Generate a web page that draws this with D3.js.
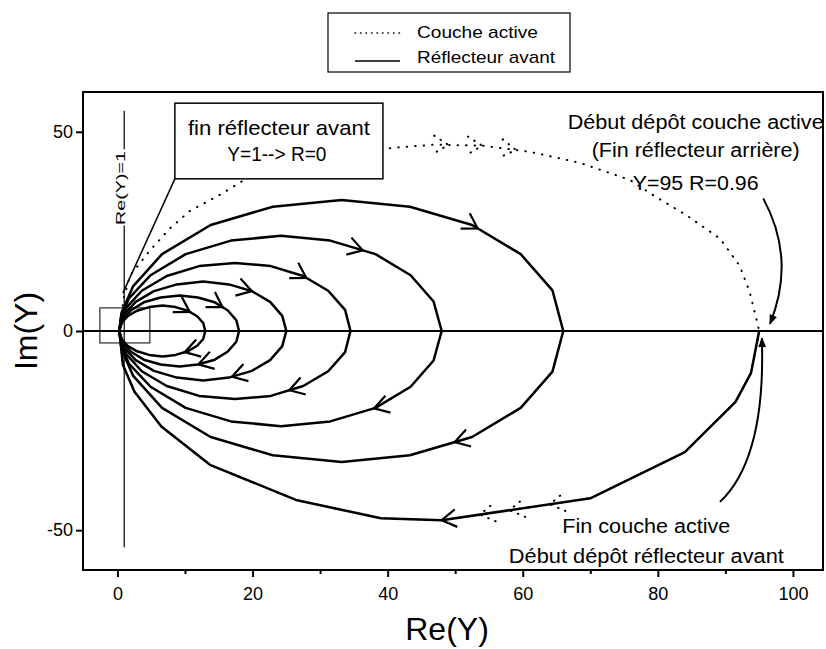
<!DOCTYPE html>
<html>
<head>
<meta charset="utf-8">
<script src="https://cdn.jsdelivr.net/npm/d3@7"></script>
<style>
  body { margin: 0; background: #fff; }
  text { font-family: "Liberation Sans", Arial, sans-serif; fill: #000; }
</style>
</head>
<body>
<div id="chart"></div>
<script>
// admittance diagram Im(Y) vs Re(Y)

const width = 826;
const height = 649;

const xTicks = [0, 20, 40, 60, 80, 100];
const xMinor = [10, 30, 50, 70, 90];
const yTicks = [-50, 0, 50];

// Reflecteur avant, upper arcs (going right, from origin to the crossing)
const up66 = [[0.3,0],[0.6,4.6],[2.3,11.2],[6.6,19.3],[13.8,26.6],[23.0,31.2],[33.2,32.9],[43.3,31.2],[52.5,26.6],[59.7,19.3],[64.4,10.2],[66,0]];
const up48 = [[0.3,0],[0.5,3.3],[1.7,8.2],[4.9,14.0],[10.1,19.3],[16.8,22.7],[24.2,23.9],[31.5,22.7],[38.2,19.3],[43.4,14.0],[46.8,7.4],[48,0]];
const up34 = [[0.3,0],[0.5,2.4],[1.3,5.8],[3.6,10.1],[7.3,13.8],[12.1,16.3],[17.4,17.1],[22.7,16.3],[27.5,13.8],[31.2,10.1],[33.7,5.3],[34.5,0]];
const up25 = [[0.3,0],[0.4,1.7],[1.0,4.2],[2.7,7.3],[5.4,10.0],[8.8,11.7],[12.7,12.4],[16.5,11.7],[19.9,10.0],[22.6,7.3],[24.4,3.8],[25,0]];
const up18 = [[0.3,0],[0.4,1.2],[0.8,3.0],[2.0,5.2],[3.9,7.2],[6.4,8.4],[9.2,8.9],[11.9,8.4],[14.4,7.2],[16.3,5.2],[17.6,2.7],[18,0]];
const up13 = [[0.3,0],[0.4,0.9],[0.7,2.2],[1.5,3.7],[2.9,5.1],[4.7,6.0],[6.7,6.4],[8.6,6.0],[10.4,5.1],[11.8,3.7],[12.7,2.0],[13,0]];

// Reflecteur avant, lower arcs (going left, from the crossing back to origin)
const lo95 = [[95,0],[93.8,-10.5],[91.5,-17.8],[84,-30.4],[70,-42],[48,-47.5],[39,-47],[26.6,-42.5],[13.7,-33.6],[6.5,-24],[2.5,-15.2],[0.8,-8.5],[0.3,0]];
const lo66 = [[66,0],[64.4,-10.2],[59.7,-19.3],[52.5,-26.6],[43.3,-31.2],[33.2,-32.9],[23.0,-31.2],[13.8,-26.6],[6.6,-19.3],[2.3,-11.2],[0.6,-4.6],[0.3,0]];
const lo48 = [[48,0],[46.8,-7.4],[43.4,-14.0],[38.2,-19.3],[31.5,-22.7],[24.2,-23.9],[16.8,-22.7],[10.1,-19.3],[4.9,-14.0],[1.7,-8.2],[0.5,-3.3],[0.3,0]];
const lo34 = [[34.5,0],[33.7,-5.3],[31.2,-10.1],[27.5,-13.8],[22.7,-16.3],[17.4,-17.1],[12.1,-16.3],[7.3,-13.8],[3.6,-10.1],[1.3,-5.8],[0.5,-2.4],[0.3,0]];
const lo25 = [[25,0],[24.4,-3.8],[22.6,-7.3],[19.9,-10.0],[16.5,-11.7],[12.7,-12.4],[8.8,-11.7],[5.4,-10.0],[2.7,-7.3],[1.0,-4.2],[0.4,-1.7],[0.3,0]];
const lo18 = [[18,0],[17.6,-2.7],[16.3,-5.2],[14.4,-7.2],[11.9,-8.4],[9.2,-8.9],[6.4,-8.4],[3.9,-7.2],[2.0,-5.2],[0.8,-3.0],[0.4,-1.2],[0.3,0]];
const lo13 = [[13,0],[12.7,-2.0],[11.8,-3.7],[10.4,-5.1],[8.6,-6.0],[6.7,-6.4],[4.7,-6.0],[2.9,-5.1],[1.5,-3.7],[0.7,-2.2],[0.4,-0.9],[0.3,0]];

// Couche active (full circle, top then bottom)
const coucheTop = [[0.3,0],[0.9,8],[1.85,13.9],[4.8,20.2],[7.8,25.8],[10.7,30.1],[15.6,34.6],[19.2,38.4],[30,43.5],[40.8,46],[47,46.8],[54.1,46.5],[61,45],[68.5,42.2],[75.9,37.9],[79.3,34.1],[84.3,29.0],[89.2,23.2],[92.1,16.4],[93.6,9.8],[94.7,2.3],[95,0]];
const coucheBottom = [[95,0],[93.8,-10.5],[91.5,-17.8],[84,-30.4],[70,-42],[48,-47.5],[39,-47],[26.6,-42.5],[13.7,-33.6],[6.5,-24],[2.5,-15.2],[0.8,-8.5],[0.3,0]];

// direction arrows along the curves
const upArrows = [[53.4,26.0],[36.3,20.2],[28,13.5],[20.1,10.6],[15.6,6.1],[10.7,4.8]];
const loArrows = [[48,-47.5],[50,-28.3],[38,-19.5],[25.5,-15.2],[17,-11.7],[12,-8.5],[10,-5.5]];
const coucheArrowsTop = [[49,46.8],[54,46.5],[59,45.5]];
const coucheArrowsBottom = [[53.7,-46.5],[58.1,-45.5],[64,-43.5]];

const reflecteurUp = [up66, up48, up34, up25, up18, up13];
const reflecteurLo = [lo95, lo66, lo48, lo34, lo25, lo18, lo13];

const svg = d3.select("#chart")
  .append("svg")
  .attr("width", width)
  .attr("height", height);

const x = d3.scaleLinear().domain([-5.1, 104.45]).range([83, 823]);
const y = d3.scaleLinear().domain([-60, 60]).range([570, 92]);

const line = d3.line().x(d => x(d[0])).y(d => y(d[1]));

// frame
svg.append("rect")
  .attr("x", x(-5.1)).attr("y", y(60))
  .attr("width", x(104.45) - x(-5.1)).attr("height", y(-60) - y(60))
  .attr("fill", "none").attr("stroke", "#000").attr("stroke-width", 2);

// axes
svg.append("g")
  .attr("transform", `translate(0,${y(-60)})`)
  .call(d3.axisBottom(x).tickValues(xTicks).tickSize(7).tickPadding(10).tickFormat(d => String(d)));
svg.append("g")
  .attr("transform", `translate(0,${y(-60)})`)
  .call(d3.axisBottom(x).tickValues(xMinor).tickSize(4).tickFormat(""));
svg.append("g")
  .attr("transform", `translate(${x(-5.1)},0)`)
  .call(d3.axisLeft(y).tickValues(yTicks).tickSize(7).tickPadding(3).tickFormat(d => String(d)));

svg.selectAll(".domain").remove();
svg.selectAll(".tick line").attr("stroke-width", 2);
svg.selectAll(".tick text")
  .attr("font-size", "18px")
  .attr("font-family", "'Liberation Sans', Arial, sans-serif");

// axis titles
svg.append("text")
  .attr("x", 447).attr("y", 640)
  .attr("text-anchor", "middle")
  .attr("font-size", "32px")
  .text("Re(Y)");
svg.append("text")
  .attr("transform", `translate(37,${y(0)}) rotate(-90)`)
  .attr("text-anchor", "middle")
  .attr("font-size", "32px")
  .text("Im(Y)");

// real axis line
svg.append("line")
  .attr("x1", x(-5.1)).attr("x2", x(104.45))
  .attr("y1", y(0)).attr("y2", y(0))
  .attr("stroke", "#000").attr("stroke-width", 2);

// Re(Y)=1 line with label
svg.append("line")
  .attr("x1", x(1)).attr("x2", x(1))
  .attr("y1", y(55.3)).attr("y2", y(45.6))
  .attr("stroke", "#000").attr("stroke-width", 1.2);
svg.append("line")
  .attr("x1", x(1)).attr("x2", x(1))
  .attr("y1", y(26.5)).attr("y2", y(-54.3))
  .attr("stroke", "#000").attr("stroke-width", 1.2);
svg.append("text")
  .attr("transform", `translate(${x(1) + 1},${y(35.9)}) rotate(-90)`)
  .attr("text-anchor", "middle")
  .attr("font-size", "13px")
  .attr("textLength", 74).attr("lengthAdjust", "spacingAndGlyphs")
  .text("Re(Y)=1");

// small box around the origin
svg.append("rect")
  .attr("x", x(-2.6)).attr("y", y(5.8))
  .attr("width", x(4.8) - x(-2.6)).attr("height", y(-3) - y(5.8))
  .attr("fill", "none").attr("stroke", "#000").attr("stroke-width", 1);

// couche active (dotted)
[coucheTop, coucheBottom].forEach(pts => {
  svg.append("path")
    .attr("d", line(pts))
    .attr("fill", "none").attr("stroke", "#000")
    .attr("stroke-width", 2).attr("stroke-linecap", "round")
    .attr("stroke-dasharray", "0.5,8");
});

// reflecteur avant (solid)
reflecteurUp.concat(reflecteurLo).forEach(pts => {
  svg.append("path")
    .attr("d", line(pts))
    .attr("fill", "none").attr("stroke", "#000")
    .attr("stroke-width", 2.5).attr("stroke-linejoin", "round");
});

// chevron arrows: snap to nearest segment, point along travel direction
function chevron(arcs, p, dashed) {
  const px = x(p[0]), py = y(p[1]);
  let best = null;
  arcs.forEach(pts => {
    for (let i = 0; i < pts.length - 1; i++) {
      const ax = x(pts[i][0]), ay = y(pts[i][1]);
      const bx = x(pts[i+1][0]), by = y(pts[i+1][1]);
      const dx = bx - ax, dy = by - ay;
      const len2 = dx*dx + dy*dy;
      let t = ((px-ax)*dx + (py-ay)*dy) / len2;
      t = Math.max(0, Math.min(1, t));
      const qx = ax + t*dx, qy = ay + t*dy;
      const dist = Math.hypot(px-qx, py-qy);
      if (!best || dist < best.dist) best = {dist, qx, qy, dx, dy};
    }
  });
  const L = Math.hypot(best.dx, best.dy);
  const ux = best.dx / L, uy = best.dy / L;
  const arm = 17, a = 0.55;
  const p1 = [best.qx - arm*(ux*Math.cos(a) - uy*Math.sin(a)), best.qy - arm*(ux*Math.sin(a) + uy*Math.cos(a))];
  const p2 = [best.qx - arm*(ux*Math.cos(-a) - uy*Math.sin(-a)), best.qy - arm*(ux*Math.sin(-a) + uy*Math.cos(-a))];
  const path = svg.append("path")
    .attr("d", `M${p1[0]},${p1[1]}L${best.qx},${best.qy}L${p2[0]},${p2[1]}`)
    .attr("fill", "none").attr("stroke", "#000");
  if (dashed) {
    path.attr("stroke-width", 2).attr("stroke-linecap", "round").attr("stroke-dasharray", "0.5,7");
  } else {
    path.attr("stroke-width", 2.2);
  }
}
upArrows.forEach(p => chevron(reflecteurUp, p, false));
loArrows.forEach(p => chevron(reflecteurLo, p, false));
coucheArrowsTop.forEach(p => chevron([coucheTop], p, true));
coucheArrowsBottom.forEach(p => chevron([coucheBottom], p, true));

// annotation box "fin reflecteur avant"
svg.append("line")
  .attr("x1", x(8.5)).attr("y1", y(38.2))
  .attr("x2", x(0.8)).attr("y2", y(9.5))
  .attr("stroke", "#000").attr("stroke-width", 1.5);
svg.append("rect")
  .attr("x", x(8.5)).attr("y", y(57.2))
  .attr("width", x(39.3) - x(8.5)).attr("height", y(38.2) - y(57.2))
  .attr("fill", "#fff").attr("stroke", "#000").attr("stroke-width", 1.5);
svg.append("text")
  .attr("x", x(23.9)).attr("y", y(49.2))
  .attr("text-anchor", "middle").attr("font-size", "21px")
  .attr("textLength", 182).attr("lengthAdjust", "spacingAndGlyphs")
  .text("fin réflecteur avant");
svg.append("text")
  .attr("x", x(23.6)).attr("y", y(42.6))
  .attr("text-anchor", "middle").attr("font-size", "21px")
  .attr("textLength", 99).attr("lengthAdjust", "spacingAndGlyphs")
  .text("Y=1--> R=0");

// right annotations
const noteTop = [["Début dépôt couche active", 50.6, 256], ["(Fin réflecteur arrière)", 43.8, 208], ["Y=95 R=0.96", 35.4, 126]];
noteTop.forEach(d => {
  svg.append("text")
    .attr("x", x(85.6)).attr("y", y(d[1]))
    .attr("text-anchor", "middle").attr("font-size", "20px")
    .attr("textLength", d[2]).attr("lengthAdjust", "spacingAndGlyphs")
    .text(d[0]);
});
const noteBottom = [["Fin couche active", -50.7, 168], ["Début dépôt réflecteur avant", -58.2, 275]];
noteBottom.forEach(d => {
  svg.append("text")
    .attr("x", x(78.3)).attr("y", y(d[1]))
    .attr("text-anchor", "middle").attr("font-size", "20px")
    .attr("textLength", d[2]).attr("lengthAdjust", "spacingAndGlyphs")
    .text(d[0]);
});

// curved arrows
svg.append("defs").append("marker")
  .attr("id", "head")
  .attr("viewBox", "0 0 10 8")
  .attr("refX", 9).attr("refY", 4)
  .attr("markerWidth", 10).attr("markerHeight", 8)
  .attr("markerUnits", "userSpaceOnUse")
  .attr("orient", "auto")
  .append("path").attr("d", "M0,0L10,4L0,8z").attr("fill", "#000");

function curvedArrow(s, c, e) {
  const p = d3.path();
  p.moveTo(x(s[0]), y(s[1]));
  p.quadraticCurveTo(x(c[0]), y(c[1]), x(e[0]), y(e[1]));
  svg.append("path")
    .attr("d", p.toString())
    .attr("fill", "none").attr("stroke", "#000").attr("stroke-width", 2)
    .attr("marker-end", "url(#head)");
}
curvedArrow([95.6, 33.3], [100.5, 18], [96.6, 1.8]);
curvedArrow([89.2, -42.9], [96, -32], [95.4, -1.8]);

// legend
const legend = svg.append("g");
legend.append("rect")
  .attr("x", 328).attr("y", 13).attr("width", 242).attr("height", 59)
  .attr("fill", "#fff").attr("stroke", "#000").attr("stroke-width", 1.2);
legend.append("line")
  .attr("x1", 355).attr("x2", 400).attr("y1", 33).attr("y2", 33)
  .attr("stroke", "#000").attr("stroke-width", 1.5)
  .attr("stroke-linecap", "round").attr("stroke-dasharray", "0.5,5");
legend.append("line")
  .attr("x1", 355).attr("x2", 400).attr("y1", 61).attr("y2", 61)
  .attr("stroke", "#000").attr("stroke-width", 1.5);
legend.append("text")
  .attr("x", 417).attr("y", 38).attr("font-size", "17px")
  .attr("textLength", 121).attr("lengthAdjust", "spacingAndGlyphs")
  .text("Couche active");
legend.append("text")
  .attr("x", 417).attr("y", 63).attr("font-size", "17px")
  .attr("textLength", 138).attr("lengthAdjust", "spacingAndGlyphs")
  .text("Réflecteur avant");
</script>
</body>
</html>
